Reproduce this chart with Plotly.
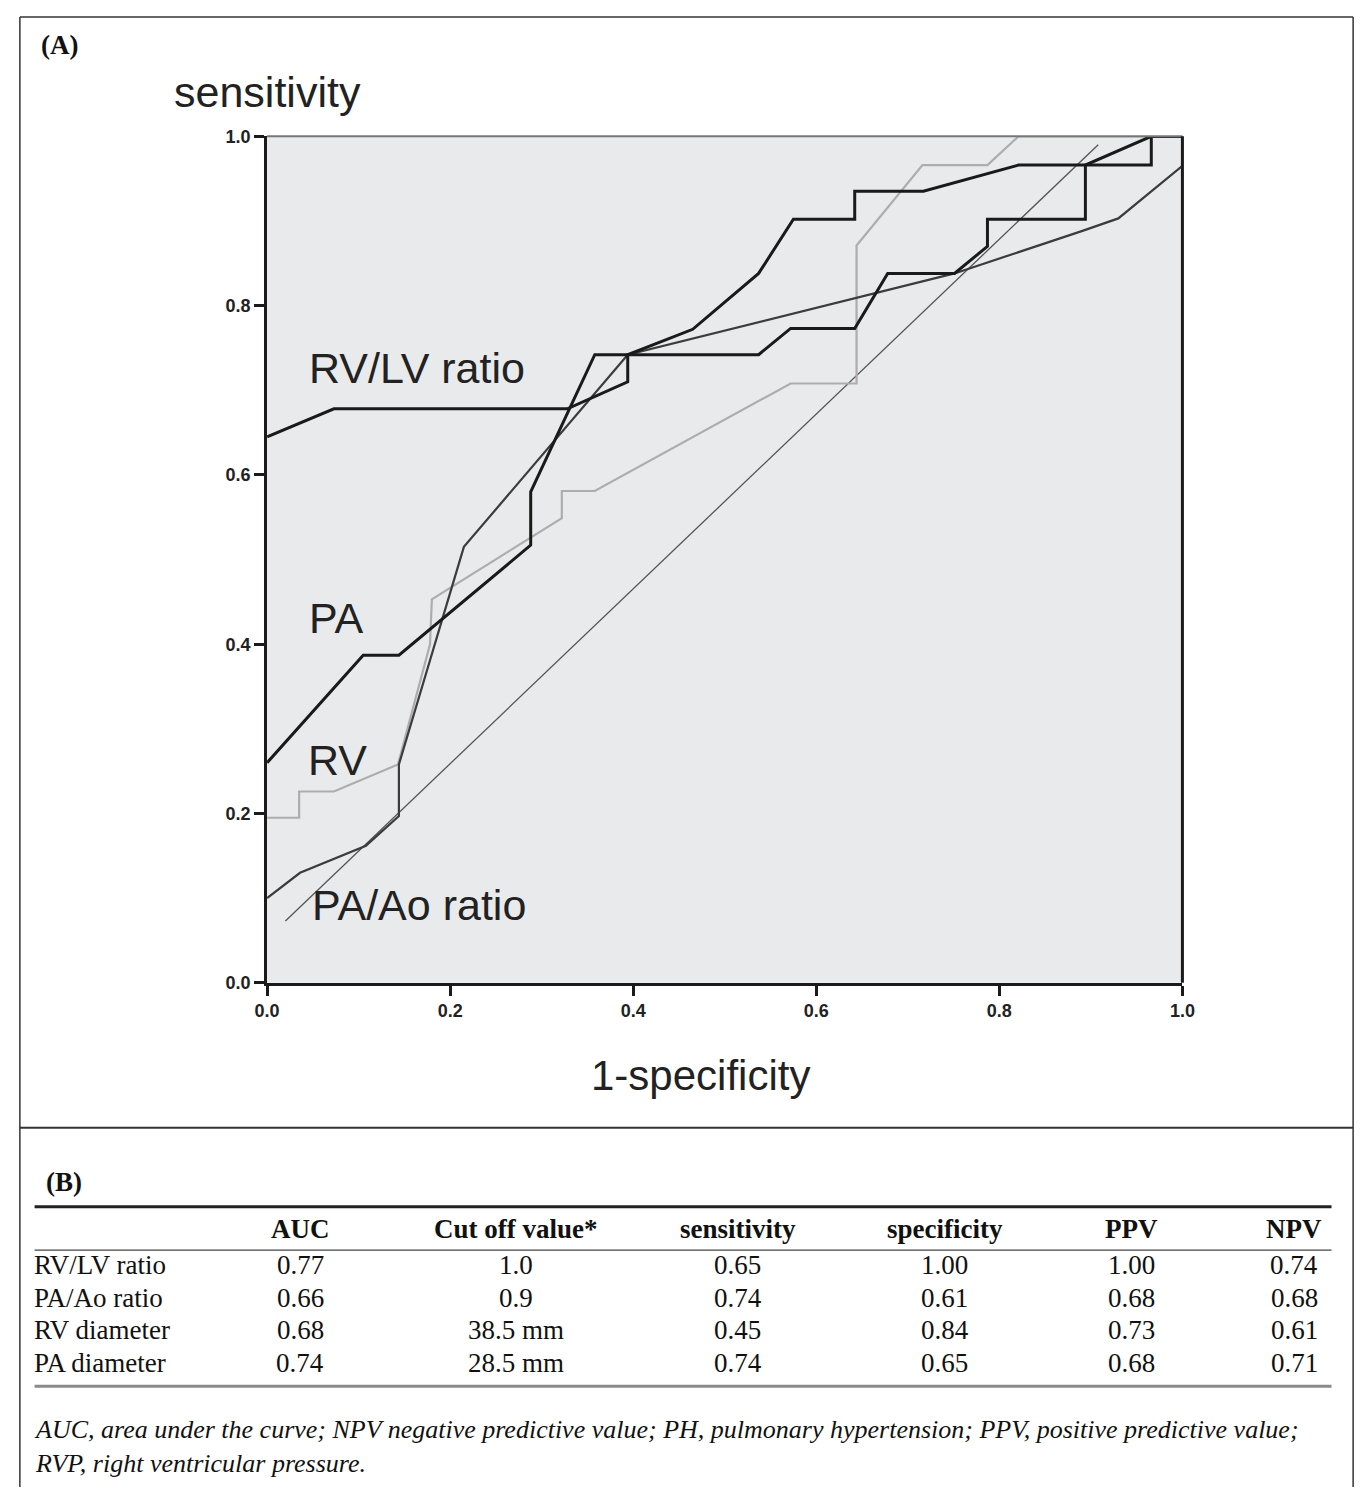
import plotly.graph_objects as go

W, H = 1372, 1497

# ---------------- data ----------------
rvlv_x = [0, 0.073, 0.328, 0.394, 0.394, 0.537, 0.572, 0.642, 0.678, 0.751, 0.787, 0.787, 0.894, 0.894, 0.966, 1.0]
rvlv_y = [0.645, 0.678, 0.678, 0.71, 0.742, 0.742, 0.773, 0.773, 0.838, 0.838, 0.870, 0.902, 0.902, 0.966, 1.0, 1.0]

pa_x = [0, 0.105, 0.144, 0.288, 0.288, 0.358, 0.394, 0.465, 0.537, 0.575, 0.642, 0.642, 0.717, 0.821, 0.966, 0.966, 1.0]
pa_y = [0.26, 0.387, 0.387, 0.517, 0.58, 0.742, 0.742, 0.772, 0.838, 0.902, 0.902, 0.935, 0.935, 0.966, 0.966, 1.0, 1.0]

paao_x = [0, 0.036, 0.108, 0.144, 0.144, 0.215, 0.394, 0.751, 0.89, 0.93, 1.0]
paao_y = [0.10, 0.13, 0.162, 0.197, 0.258, 0.515, 0.742, 0.838, 0.888, 0.903, 0.965]

rv_x = [0, 0.035, 0.035, 0.073, 0.143, 0.178, 0.18, 0.322, 0.322, 0.358, 0.572, 0.644, 0.644, 0.716, 0.787, 0.821, 1.0]
rv_y = [0.195, 0.195, 0.226, 0.226, 0.258, 0.40, 0.453, 0.549, 0.581, 0.581, 0.708, 0.708, 0.871, 0.966, 0.966, 1.0, 1.0]

ref_x = [0.02, 0.908]
ref_y = [0.073, 0.99]

tick_vals = [0.0, 0.2, 0.4, 0.6, 0.8, 1.0]
tick_text = ["0.0", "0.2", "0.4", "0.6", "0.8", "1.0"]

curve_labels = ["RV/LV ratio", "PA", "RV", "PA/Ao ratio"]
label_x = [0.044, 0.044, 0.042, 0.047]
label_y = [0.726, 0.431, 0.263, 0.092]

table_header = ["", "AUC", "Cut off value*", "sensitivity", "specificity", "PPV", "NPV"]
row_names = ["RV/LV ratio", "PA/Ao ratio", "RV diameter", "PA diameter"]
auc = ["0.77", "0.66", "0.68", "0.74"]
cutoff = ["1.0", "0.9", "38.5 mm", "28.5 mm"]
sens = ["0.65", "0.74", "0.45", "0.74"]
spec = ["1.00", "0.61", "0.84", "0.65"]
ppv = ["1.00", "0.68", "0.73", "0.68"]
npv = ["0.74", "0.68", "0.61", "0.71"]
footnote = ["AUC, area under the curve; NPV negative predictive value; PH, pulmonary hypertension; PPV, positive predictive value;",
            "RVP, right ventricular pressure."]

# ---------------- helpers (pixel -> paper) ----------------
def px(x):
    return x / W

def py(y):
    return 1 - y / H

X0, X1, Y0, Y1 = 259, 1192, 128, 986

fig = go.Figure()

fig.add_trace(go.Scatter(x=ref_x, y=ref_y, mode="lines", line=dict(color="#555555", width=1.3), hoverinfo="skip"))
fig.add_trace(go.Scatter(x=rv_x, y=rv_y, mode="lines", line=dict(color="#adadad", width=2.2), hoverinfo="skip"))
fig.add_trace(go.Scatter(x=paao_x, y=paao_y, mode="lines", line=dict(color="#3c3c3c", width=2.2), hoverinfo="skip"))
fig.add_trace(go.Scatter(x=pa_x, y=pa_y, mode="lines", line=dict(color="#1a1a1a", width=3), hoverinfo="skip"))
fig.add_trace(go.Scatter(x=rvlv_x, y=rvlv_y, mode="lines", line=dict(color="#1a1a1a", width=3), hoverinfo="skip"))

axis_common = dict(range=[0, 1], tickvals=tick_vals, ticktext=tick_text, ticks="outside", ticklen=10,
                   tickwidth=3, tickcolor="#1a1a1a", showgrid=False, zeroline=False, showline=True,
                   linecolor="#1a1a1a", linewidth=3,
                   tickfont=dict(family="Liberation Sans", size=18, color="#222222", weight="bold"))

fig.update_layout(
    width=W, height=H, margin=dict(l=0, r=0, t=0, b=0),
    paper_bgcolor="white", plot_bgcolor="#e9eaec", showlegend=False,
    xaxis=dict(domain=[px(X0), px(X1)], **axis_common),
    yaxis=dict(domain=[py(Y1), py(Y0)], **axis_common),
)

shapes = []
# top and right frame of plot area
shapes.append(dict(type="line", xref="x domain", yref="y domain", x0=0, x1=1, y0=1, y1=1,
                   line=dict(color="#777777", width=2)))
shapes.append(dict(type="line", xref="x domain", yref="y domain", x0=1, x1=1, y0=0, y1=1,
                   line=dict(color="#1a1a1a", width=3)))
# outer frame
fc = dict(color="#333333", width=1.5)
shapes.append(dict(type="line", xref="paper", yref="paper", x0=px(7), x1=px(7), y0=py(7), y1=py(1497), line=fc))
shapes.append(dict(type="line", xref="paper", yref="paper", x0=px(1366), x1=px(1366), y0=py(7), y1=py(1497), line=fc))
shapes.append(dict(type="line", xref="paper", yref="paper", x0=px(7), x1=px(1366), y0=py(7), y1=py(7), line=fc))
shapes.append(dict(type="line", xref="paper", yref="paper", x0=px(7), x1=px(1366), y0=py(1133), y1=py(1133),
                   line=dict(color="#333333", width=2)))
# table lines
shapes.append(dict(type="line", xref="paper", yref="paper", x0=px(22), x1=px(1344), y0=py(1213), y1=py(1213),
                   line=dict(color="#222222", width=3)))
shapes.append(dict(type="line", xref="paper", yref="paper", x0=px(22), x1=px(1344), y0=py(1257), y1=py(1257),
                   line=dict(color="#444444", width=1.3)))
shapes.append(dict(type="line", xref="paper", yref="paper", x0=px(22), x1=px(1344), y0=py(1395), y1=py(1395),
                   line=dict(color="#8a8a8a", width=3)))
fig.update_layout(shapes=shapes)

ann = []
sans = "Liberation Sans"
serif = "Liberation Serif"
ann.append(dict(text="<b>(A)</b>", x=px(27), y=py(35), xref="paper", yref="paper", xanchor="left", yanchor="middle",
                showarrow=False, font=dict(family=serif, size=27, color="#111111")))
ann.append(dict(text="sensitivity", x=px(162), y=py(83), xref="paper", yref="paper", xanchor="left", yanchor="middle",
                showarrow=False, font=dict(family=sans, size=43, color="#222222")))
ann.append(dict(text="1-specificity", x=px(701), y=py(1080), xref="paper", yref="paper", xanchor="center", yanchor="middle",
                showarrow=False, font=dict(family=sans, size=42, color="#222222")))
for t, lx, ly in zip(curve_labels, label_x, label_y):
    ann.append(dict(text=t, x=lx, y=ly, xref="x", yref="y", xanchor="left", yanchor="middle",
                    showarrow=False, font=dict(family=sans, size=43, color="#222222")))

ann.append(dict(text="<b>(B)</b>", x=px(32), y=py(1188), xref="paper", yref="paper", xanchor="left", yanchor="middle",
                showarrow=False, font=dict(family=serif, size=27, color="#111111")))

col_x = [19, 293, 513, 739, 950, 1140, 1306]
row_y = [1272, 1305, 1338, 1371]
for i, h in enumerate(table_header):
    if h:
        ann.append(dict(text="<b>" + h + "</b>", x=px(col_x[i]), y=py(1235), xref="paper", yref="paper",
                        xanchor="center", yanchor="middle", showarrow=False,
                        font=dict(family=serif, size=27, color="#111111")))
cols = [auc, cutoff, sens, spec, ppv, npv]
for r in range(len(row_names)):
    ann.append(dict(text=row_names[r], x=px(col_x[0]), y=py(row_y[r]), xref="paper", yref="paper",
                    xanchor="left", yanchor="middle", showarrow=False,
                    font=dict(family=serif, size=27, color="#111111")))
    for c, col in enumerate(cols):
        ann.append(dict(text=col[r], x=px(col_x[c + 1]), y=py(row_y[r]), xref="paper", yref="paper",
                        xanchor="center", yanchor="middle", showarrow=False,
                        font=dict(family=serif, size=27, color="#111111")))

ann.append(dict(text="<br>".join("<i>" + ln + "</i>" for ln in footnote), x=px(19), y=py(1456),
                xref="paper", yref="paper", xanchor="left", yanchor="middle", align="left", showarrow=False,
                font=dict(family=serif, size=26, color="#111111")))

fig.update_layout(annotations=ann)

fig.write_html("out.html", config={"displayModeBar": False},
               post_script="document.body.style.margin='0px';document.body.style.overflow='hidden';")
